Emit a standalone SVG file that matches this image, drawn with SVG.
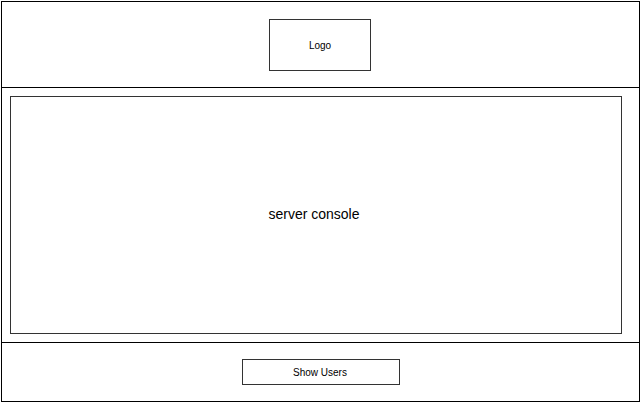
<svg xmlns="http://www.w3.org/2000/svg" width="642" height="405" viewBox="0 0 642 405">
<style>
.box{fill:#fff;stroke:#000;stroke-width:1}
.inner{fill:none;stroke:#333;stroke-width:1}
.t{font-family:"Liberation Sans",Arial,sans-serif;fill:#000;text-anchor:middle;dominant-baseline:central}
</style>
<rect width="642" height="405" fill="#fff"/>
<g id="frame">
<rect class="box" x="1.5" y="1.5" width="638" height="400"/>
</g>
<g id="connectors">
<line x1="1.5" y1="87.5" x2="639.5" y2="87.5" stroke="#000"/>
<line x1="1.5" y1="342.5" x2="639.5" y2="342.5" stroke="#000"/>
</g>
<g id="logo">
<rect class="inner" x="269.5" y="19.5" width="101" height="51"/>
<text class="t" x="320" y="45" font-size="10">Logo</text>
</g>
<g id="console">
<rect class="inner" x="10.5" y="96.5" width="611" height="237"/>
<text class="t" x="314" y="214" font-size="14">server console</text>
</g>
<g id="show-users">
<rect class="inner" x="242.5" y="359.5" width="157" height="25"/>
<text class="t" x="320" y="372" font-size="10">Show Users</text>
</g>
</svg>
